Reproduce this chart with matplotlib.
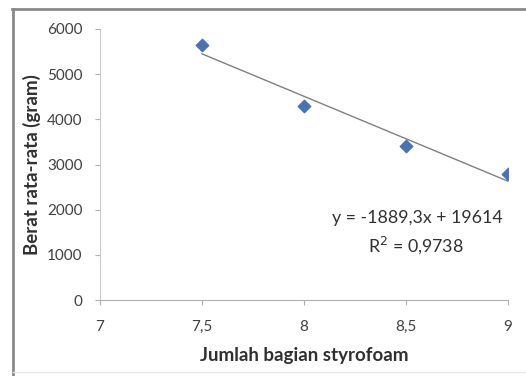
import numpy as np
import matplotlib
matplotlib.use("Agg")
import matplotlib.pyplot as plt
from matplotlib.lines import Line2D

# data
styrofoam = [7.5, 8.0, 8.5, 9.0]
berat = [5640, 4300, 3420, 2800]
x_ticks = [7, 7.5, 8, 8.5, 9]
x_tick_labels = ["7", "7,5", "8", "8,5", "9"]
y_ticks = [0, 1000, 2000, 3000, 4000, 5000, 6000]
eq_text = "y = -1889,3x + 19614"
r2_text = "R$^2$ = 0,9738"

plt.rcParams['font.family'] = ['Lato', 'DejaVu Sans']

fig = plt.figure(figsize=(5.26, 3.76), dpi=100)
ax = fig.add_axes([100/526, 1-300/376, 408/526, 271/376])

# linear trend line
coef = np.polyfit(styrofoam, berat, 1)
xs = np.array([styrofoam[0], styrofoam[-1]])
ax.plot(xs, np.polyval(coef, xs), color='#7f7f7f', lw=1.0, zorder=2)
ax.scatter(styrofoam, berat, marker='D', s=40, color='#4a72b0', zorder=3)

ax.set_xlim(7, 9)
ax.set_ylim(0, 6000)
ax.set_xticks(x_ticks)
ax.set_xticklabels(x_tick_labels)
ax.set_yticks(y_ticks)

for s in ['top', 'right']:
    ax.spines[s].set_visible(False)
ax.spines['left'].set_color('#c8c8c8')
ax.spines['bottom'].set_color('#b0b0b0')
ax.tick_params(axis='both', colors='#b0b0b0', labelcolor='#404040', labelsize=11, length=3.6)
ax.tick_params(axis='y', pad=9)
ax.tick_params(axis='x', pad=11)

ax.set_xlabel("Jumlah bagian styrofoam", fontsize=13.5, fontweight='bold', color='#303030', labelpad=9)
ax.set_ylabel("Berat rata-rata (gram)", fontsize=13.5, fontweight='bold', color='#303030', labelpad=4)

ax.text(0.988, 0.303, eq_text, transform=ax.transAxes, ha='right', va='center', fontsize=12.8, color='#303030')
ax.text(0.775, 0.203, r2_text, transform=ax.transAxes, ha='center', va='center', fontsize=12.8, color='#303030')

# chart frame
fig.add_artist(Line2D([12/526, 1], [1-9/376, 1-9/376], color='#8a8a8a', lw=2, transform=fig.transFigure))
fig.add_artist(Line2D([13/526, 13/526], [0, 1-9/376], color='#8a8a8a', lw=2, transform=fig.transFigure))
fig.add_artist(Line2D([13/526, 1], [4/376, 4/376], color='#e8e8e8', lw=1, transform=fig.transFigure))

fig.savefig("out.png", dpi=100)
